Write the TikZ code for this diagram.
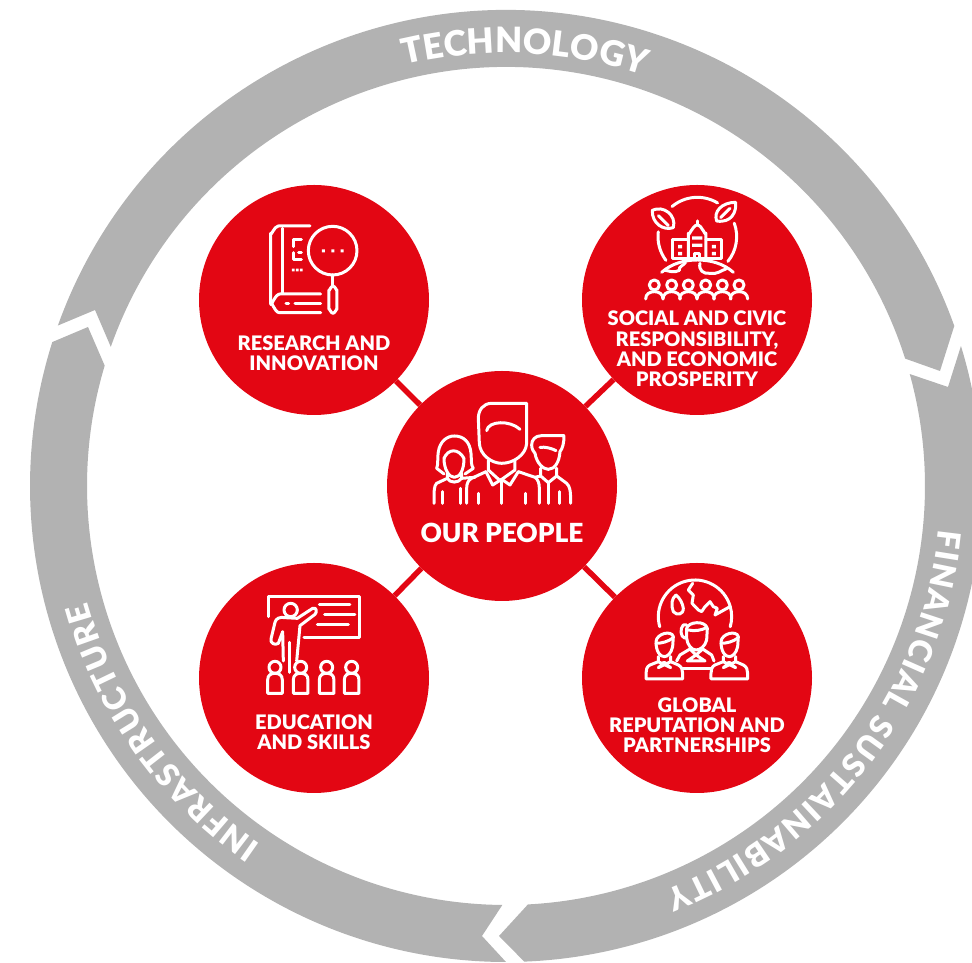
\documentclass[tikz,border=0pt]{standalone}
\usepackage{fontspec}
\setmainfont{Lato}[BoldFont={Lato Black}]
\usetikzlibrary{decorations.text,calc}
\definecolor{ringgray}{HTML}{B2B2B2}
\definecolor{brandred}{HTML}{E30613}
\newcommand\ringAfont{\fontsize{35}{35}\selectfont\bfseries}
\newcommand\ringBfont{\fontsize{32}{32}\selectfont\bfseries}
\tikzset{
  ringseg/.style={fill=ringgray,draw=none},
  hub/.style={circle,fill=brandred,draw=none,minimum size=230pt,inner sep=0pt},
  spoke/.style={draw=brandred,line width=5.5pt},
  lab/.style={text=white,align=center,inner sep=0pt,font=\fontsize{20}{20.2}\selectfont\bfseries},
  biglab/.style={text=white,align=center,inner sep=0pt,font=\fontsize{26.3}{27}\selectfont\bfseries},
  icon/.style={draw=white,line width=3pt,line cap=round,line join=round,fill=none},
  iconfill/.style={fill=white,draw=none},
  zoomed/.style={xscale=0.3333,yscale=-0.3333}
}
\begin{document}
\begin{tikzpicture}[x=1pt,y=1pt]
\useasboundingbox (0,0) rectangle (972,963);
\clip (0,0) rectangle (972,963);
\coordinate (C) at (506,477);
% ring
\fill[ringseg] (C)+(160.3:476) arc[start angle=160.3,end angle=19.65,radius=476] -- (940,592) -- ($(C)+(17.7:419)$) arc[start angle=17.7,end angle=160.6,radius=419] -- (95,653) -- cycle;
\fill[ringseg] (C)+(17.1:476) arc[start angle=17.1,end angle=-87.8,radius=476] -- (499,27) -- ($(C)+(-87:419)$) arc[start angle=-87,end angle=15.5,radius=419] -- (948,576) -- cycle;
\fill[ringseg] (C)+(270:476) arc[start angle=270,end angle=162.4,radius=476] -- (88,636) -- ($(C)+(163.3:419)$) arc[start angle=163.3,end angle=269.5,radius=419] -- (482,27) -- cycle;
% ring labels
\path[decorate,decoration={text along path,text color=white,text={|\ringAfont|TECHNOLOGY},text align={center}}]
  (C)+(120:433) arc[start angle=120,end angle=55,radius=433];
\path[decorate,decoration={text along path,text color=white,text={|\ringBfont|FINANCIAL SUSTAINABILITY},text align={right indent=45pt,fit to path}}]
  (C)+(-5.8:435) arc[start angle=-5.8,end angle=-74.5,radius=435];
\path[decorate,decoration={text along path,text color=white,text={|\ringBfont|INFRASTRUCTURE},text align={right indent=45pt,fit to path}}]
  (C)+(235.6:434) arc[start angle=235.6,end angle=189.5,radius=434];
% hubs
\node[hub] (center) at (502,477) {};
\node[hub] (tl) at (314,663) {};
\node[hub] (tr) at (697,663) {};
\node[hub] (bl) at (314,285) {};
\node[hub] (br) at (697,285) {};
\draw[spoke] (center) -- (tl);
\draw[spoke] (center) -- (tr);
\draw[spoke] (center) -- (bl);
\draw[spoke] (center) -- (br);
% labels
\node[lab] (ltl) at (314,610) {RESEARCH AND\\INNOVATION};
\node[lab] (ltr) at (697,614) {SOCIAL AND CIVIC\\RESPONSIBILITY,\\AND ECONOMIC\\PROSPERITY};
\node[biglab] (lc) at (502,430) {OUR PEOPLE};
\node[lab] (lbl) at (314,231) {EDUCATION\\AND SKILLS};
\node[lab] (lbr) at (697,238) {GLOBAL\\REPUTATION AND\\PARTNERSHIPS};
% icon: book and magnifier
\begin{scope}[shift={(230,763)},zoomed]
 \draw[icon] (240,78) -- (145,78) to[out=180,in=90] (122,100) -- (122,310) to[out=-90,in=180] (148,338) -- (272,338);
 \draw[icon] (158,85) -- (158,278);
 \draw[icon] (272,282) -- (150,282) to[out=180,in=90] (122,310);
 \draw[icon] (195,310) -- (272,310);
 \draw[icon] (168,310) -- (176,310);
 \draw[icon] (214,118) -- (190,118) -- (190,140);
 \draw[icon] (190,158) -- (190,178) -- (214,178);
 \draw[icon] (214,158) -- (206,158);
 \fill[iconfill] (186,206) rectangle (194,214) (198,206) rectangle (206,214) (210,206) rectangle (218,214);
 \draw[icon] (308,152) circle[radius=73];
 \fill[iconfill] (276,148) rectangle (285,157) (304,148) rectangle (313,157) (332,148) rectangle (341,157);
 \draw[icon] (308,225) -- (308,258);
 \draw[icon] (297,270) to[out=90,in=180] (309,258) to[out=0,in=90] (321,270) -- (321,328) to[out=-90,in=0] (309,340) to[out=180,in=-90] (297,328) -- cycle;
\end{scope}
% icon: city on globe
\begin{scope}[shift={(620,768)},zoomed]
 \draw[icon] (232,125)+(143:118) arc[start angle=143,end angle=187,radius=118];
 \draw[icon] (232,125)+(230:118) arc[start angle=230,end angle=301,radius=118];
 \draw[icon] (232,125)+(-20:118) arc[start angle=-20,end angle=39,radius=118];
 \draw[icon] (97,46) .. controls (130,30) and (170,60) .. (160,98) .. controls (130,108) and (95,85) .. cycle;
 \draw[icon] (115,62) -- (145,92);
 \draw[icon] (347,22) .. controls (350,50) and (335,85) .. (290,78) .. controls (280,50) and (305,22) .. cycle;
 \draw[icon] (330,40) -- (302,68);
 \draw[icon] (205,190) -- (205,115) to[out=90,in=180] (232,90) to[out=0,in=90] (258,115) -- (258,190);
 \draw[icon] (232,78) -- (232,90);
 \draw[icon] (205,135) -- (158,135) -- (158,190) -- (305,190) -- (305,135) -- (258,135);
 \draw[icon] (222,190) -- (222,176) -- (240,176) -- (240,190);
 \fill[iconfill] (216,124) rectangle (247,134) (216,146) rectangle (247,156);
 \fill[iconfill] (174,150) rectangle (186,160) (174,171) rectangle (186,181) (276,150) rectangle (288,160) (276,171) rectangle (288,181);
 \draw[icon] (125,232) .. controls (155,205) and (195,195) .. (232,195) .. controls (270,195) and (310,205) .. (340,232);
 \draw[icon] (135,226) .. controls (150,228) and (160,235) .. (178,226) .. controls (175,215) and (190,212) .. (197,202);
 \draw[icon] (240,205) .. controls (235,225) and (250,238) .. (270,235) .. controls (290,240) and (305,225) .. (318,222);
 \foreach \p in {103,155,205,257,307,357}{
   \draw[icon] (\p,270) circle[radius=15];
   \draw[icon] (\p-26,312) .. controls (\p-26,297) and (\p-14,290) .. (\p,290) .. controls (\p+14,290) and (\p+26,297) .. (\p+26,312);
 }
\end{scope}
% icon: people
\begin{scope}[shift={(420,573)},zoomed]
 \draw[icon] (320,40) -- (215,40) .. controls (190,40) and (175,60) .. (175,85) -- (178,160) .. controls (180,195) and (215,220) .. (245,220) .. controls (280,220) and (318,195) .. (320,160) -- cycle;
 \draw[icon] (200,122) .. controls (205,92) and (270,90) .. (300,118);
 \draw[icon] (205,212) -- (205,240) -- (240,272) -- (285,240) -- (285,212);
 \draw[icon] (198,245) -- (218,285) -- (245,268) -- (270,285) -- (295,245);
 \draw[icon] (198,245) -- (155,265) .. controls (145,270) and (140,280) .. (140,295) -- (140,340);
 \draw[icon] (295,245) -- (345,262) .. controls (355,270) and (358,280) .. (358,295) -- (358,340);
 \draw[icon] (245,270) -- (245,340);
 \draw[icon] (175,310) -- (175,340);
 \draw[icon] (318,310) -- (318,340);
 \draw[icon] (72,252) -- (50,235) .. controls (55,225) and (52,200) .. (55,185) .. controls (60,155) and (80,138) .. (103,138) .. controls (130,138) and (150,155) .. (153,190) .. controls (155,210) and (152,225) .. (160,235) -- (135,252);
 \draw[icon] (72,205) .. controls (85,175) and (115,175) .. (132,205);
 \draw[icon] (72,205) .. controls (72,240) and (88,262) .. (103,262) .. controls (120,262) and (132,240) .. (132,205);
 \draw[icon] (82,250) -- (82,265) .. controls (90,280) and (115,280) .. (125,265) -- (125,250);
 \draw[icon] (82,265) -- (50,280) .. controls (42,288) and (42,300) .. (42,340);
 \draw[icon] (125,265) -- (165,262);
 \draw[icon] (68,305) -- (68,340);
 \draw[icon] (120,295) -- (120,340);
 \draw[icon] (432,137) -- (365,137) .. controls (345,137) and (335,150) .. (335,165) .. controls (335,180) and (342,185) .. (345,190) .. controls (350,220) and (370,238) .. (385,238) .. controls (405,238) and (418,215) .. (420,185) .. controls (428,175) and (432,160) .. cycle;
 \draw[icon] (360,172) .. controls (375,170) and (395,175) .. (408,182);
 \draw[icon] (362,235) -- (362,258) -- (385,278) -- (410,258) -- (410,235);
 \draw[icon] (410,258) -- (440,280) .. controls (450,290) and (452,300) .. (452,340);
 \draw[icon] (362,258) -- (345,262);
 \draw[icon] (385,278) -- (385,340);
 \draw[icon] (420,305) -- (420,340);
\end{scope}
% icon: teacher
\begin{scope}[shift={(250,378)},zoomed]
 \draw[icon] (55,95) -- (55,35) -- (330,35) -- (330,157) -- (162,157);
 \draw[icon] (208,60) -- (300,60);
 \draw[icon] (224,90) -- (315,90);
 \draw[icon] (202,120) -- (295,120);
 \draw[icon] (122,75) circle[radius=20];
 \draw[icon] (100,228) -- (98,140) -- (85,175) .. controls (75,182) and (60,175) .. (63,162) -- (75,112) .. controls (78,100) and (90,95) .. (105,98) -- (142,100) -- (188,70) .. controls (200,65) and (202,82) .. (195,88) -- (150,122) -- (140,228);
 \draw[icon] (120,172) -- (120,262);
 \foreach \p in {75,152,230,305}{
   \draw[icon] (\p,247) circle[radius=18];
   \draw[icon] (\p-22,325) -- (\p-22,285) .. controls (\p-22,270) and (\p-12,265) .. (\p,265) .. controls (\p+12,265) and (\p+22,270) .. (\p+22,285) -- (\p+22,325) -- cycle;
 }
\end{scope}
% icon: global partners
\begin{scope}[shift={(630,388)},zoomed]
 \draw[icon] (195,125)+(164:110) arc[start angle=164,end angle=376,radius=110];
 \draw[icon] (138,60) .. controls (125,70) and (122,90) .. (130,110) .. controls (140,122) and (160,120) .. (160,100) .. controls (158,85) and (150,70) .. cycle;
 \draw[icon] (188,25) -- (175,45) -- (190,60) -- (186,85) -- (205,105) -- (215,110) -- (225,95) -- (240,80) -- (250,95) -- (262,100) -- (255,120) -- (300,95);
 \draw[icon] (170,150) -- (160,150) .. controls (150,160) and (150,185) .. (165,190);
 \draw[icon] (170,190) -- (170,160) .. controls (175,140) and (225,135) .. (232,160) -- (230,195) .. controls (225,215) and (210,225) .. (198,225) .. controls (185,225) and (172,210) .. (170,190);
 \draw[icon] (175,165) .. controls (195,170) and (215,165) .. (230,158);
 \draw[icon] (180,222) -- (198,240) -- (218,222);
 \draw[icon] (180,222) -- (150,240) -- (140,258);
 \draw[icon] (218,222) -- (245,240) -- (252,258);
 \draw[icon] (172,258) -- (225,258) -- (198,240) -- cycle;
 \draw[icon] (158,280) -- (245,280);
 \foreach \q in {0,195}{
  \begin{scope}[xshift=\q]
   \draw[icon] (78,200) .. controls (80,175) and (125,165) .. (130,185) -- (128,215) .. controls (124,235) and (112,245) .. (103,245) .. controls (90,245) and (78,230) .. (78,200);
   \draw[icon] (78,205) .. controls (95,205) and (115,200) .. (130,188);
   \draw[icon] (85,245) -- (85,260) -- (122,278) -- (100,262);
   \draw[icon] (122,245) -- (122,260) -- (85,278) -- (105,262);
   \draw[icon] (85,260) -- (60,270) .. controls (50,275) and (48,285) .. (48,295) -- (48,312) -- (158,312) -- (158,295) .. controls (158,285) and (155,275) .. (145,270) -- (122,260);
  \end{scope}
 }
\end{scope}
\end{tikzpicture}
\end{document}
